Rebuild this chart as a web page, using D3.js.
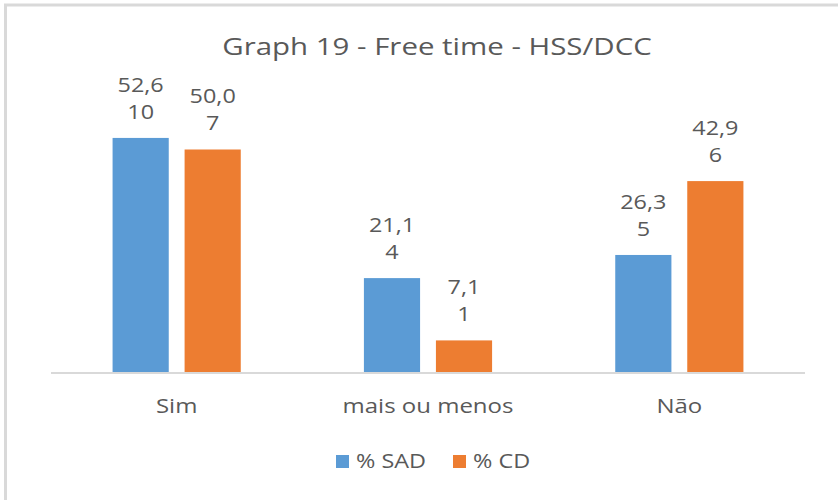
<!DOCTYPE html>
<html>
<head>
<meta charset="utf-8">
<script src="https://cdn.jsdelivr.net/npm/d3@7"></script>
<style>
  html, body { margin: 0; padding: 0; background: #ffffff; }
  text { font-family: "Open Sans", "DejaVu Sans", sans-serif; fill: #595959; }
</style>
</head>
<body>
<div id="chart"></div>
<script>
    "use strict";

    const categories = ["Sim", "mais ou menos", "Não"];
    const seriesNames = ["% SAD", "% CD"];
    const sadValues = [52.6, 21.1, 26.3];
    const cdValues = [50.0, 7.1, 42.9];
    const sadCounts = ["10", "4", "5"];
    const cdCounts = ["7", "1", "6"];
    const seriesColors = ["#5B9BD5", "#ED7D31"];
    const chartTitle = "Graph 19 - Free time - HSS/DCC";

    const width = 838;
    const height = 500;
    const stretch = 1.17;

    const svg = d3.select("#chart")
        .append("svg")
            .attr("width", width)
            .attr("height", height);

    // chart frame (only top and left edges fall inside the picture)
    svg.append("rect")
        .attr("x", 5.5)
        .attr("y", 5)
        .attr("width", width + 20)
        .attr("height", height + 20)
        .attr("fill", "#ffffff")
        .attr("stroke", "#d9d9d9")
        .attr("stroke-width", 3);

    const plotLeft = 51, plotRight = 805, plotBottom = 372, plotTop = 105;

    const x0 = d3.scaleBand()
        .domain(categories)
        .range([plotLeft, plotRight])
        .paddingInner(0.49)
        .paddingOuter(0.245);

    const x1 = d3.scaleBand()
        .domain(seriesNames)
        .range([0, x0.bandwidth()])
        .paddingInner(0.22);

    const y = d3.scaleLinear()
        .domain([0, 60])
        .range([plotBottom, plotTop]);

    const stretchedText = function (parent, x, yPos, str, size, sx) {
        return parent.append("text")
            .attr("transform", "translate(" + x + "," + yPos + ") scale(" + (sx || stretch) + ",1)")
            .attr("text-anchor", "middle")
            .attr("dominant-baseline", "central")
            .attr("font-size", size)
            .text(str);
    };

    // title
    stretchedText(svg, 437, 46, chartTitle, 23, 1.28);

    const rows = categories.map((c, i) => ({
        category: c,
        values: [
            {series: seriesNames[0], value: sadValues[i], count: sadCounts[i], color: seriesColors[0]},
            {series: seriesNames[1], value: cdValues[i], count: cdCounts[i], color: seriesColors[1]}
        ]
    }));

    const groups = svg.append("g")
        .attr("class", "bars")
        .selectAll("g")
        .data(rows)
        .enter()
        .append("g")
            .attr("transform", d => "translate(" + x0(d.category) + ",0)");

    groups.selectAll("rect")
        .data(d => d.values)
        .enter()
        .append("rect")
            .attr("x", d => x1(d.series))
            .attr("y", d => y(d.value))
            .attr("width", x1.bandwidth())
            .attr("height", d => y(0) - y(d.value))
            .attr("fill", d => d.color);

    // data labels: percentage with count underneath
    groups.each(function (row) {
        const g = d3.select(this);
        row.values.forEach(v => {
            const cx = x1(v.series) + x1.bandwidth() / 2;
            const top = y(v.value);
            stretchedText(g, cx, top - 54, v.value.toFixed(1).replace(".", ","), 20);
            stretchedText(g, cx, top - 27, v.count, 20);
        });
    });

    // category axis
    svg.append("line")
        .attr("x1", plotLeft)
        .attr("x2", plotRight)
        .attr("y1", plotBottom + 1)
        .attr("y2", plotBottom + 1)
        .attr("stroke", "#d9d9d9")
        .attr("stroke-width", 2);

    categories.forEach(c => {
        stretchedText(svg, x0(c) + x0.bandwidth() / 2, 405, c, 20, 1.2);
    });

    // legend
    const legend = svg.append("g").attr("class", "legend");
    const legendX = [336, 453];
    seriesNames.forEach((s, i) => {
        legend.append("rect")
            .attr("x", legendX[i])
            .attr("y", 455)
            .attr("width", 13)
            .attr("height", 13)
            .attr("fill", seriesColors[i]);
        legend.append("text")
            .attr("transform", "translate(" + (legendX[i] + 20) + ",460) scale(" + stretch + ",1)")
            .attr("dominant-baseline", "central")
            .attr("font-size", 20)
            .text(s);
    });
</script>
</body>
</html>
